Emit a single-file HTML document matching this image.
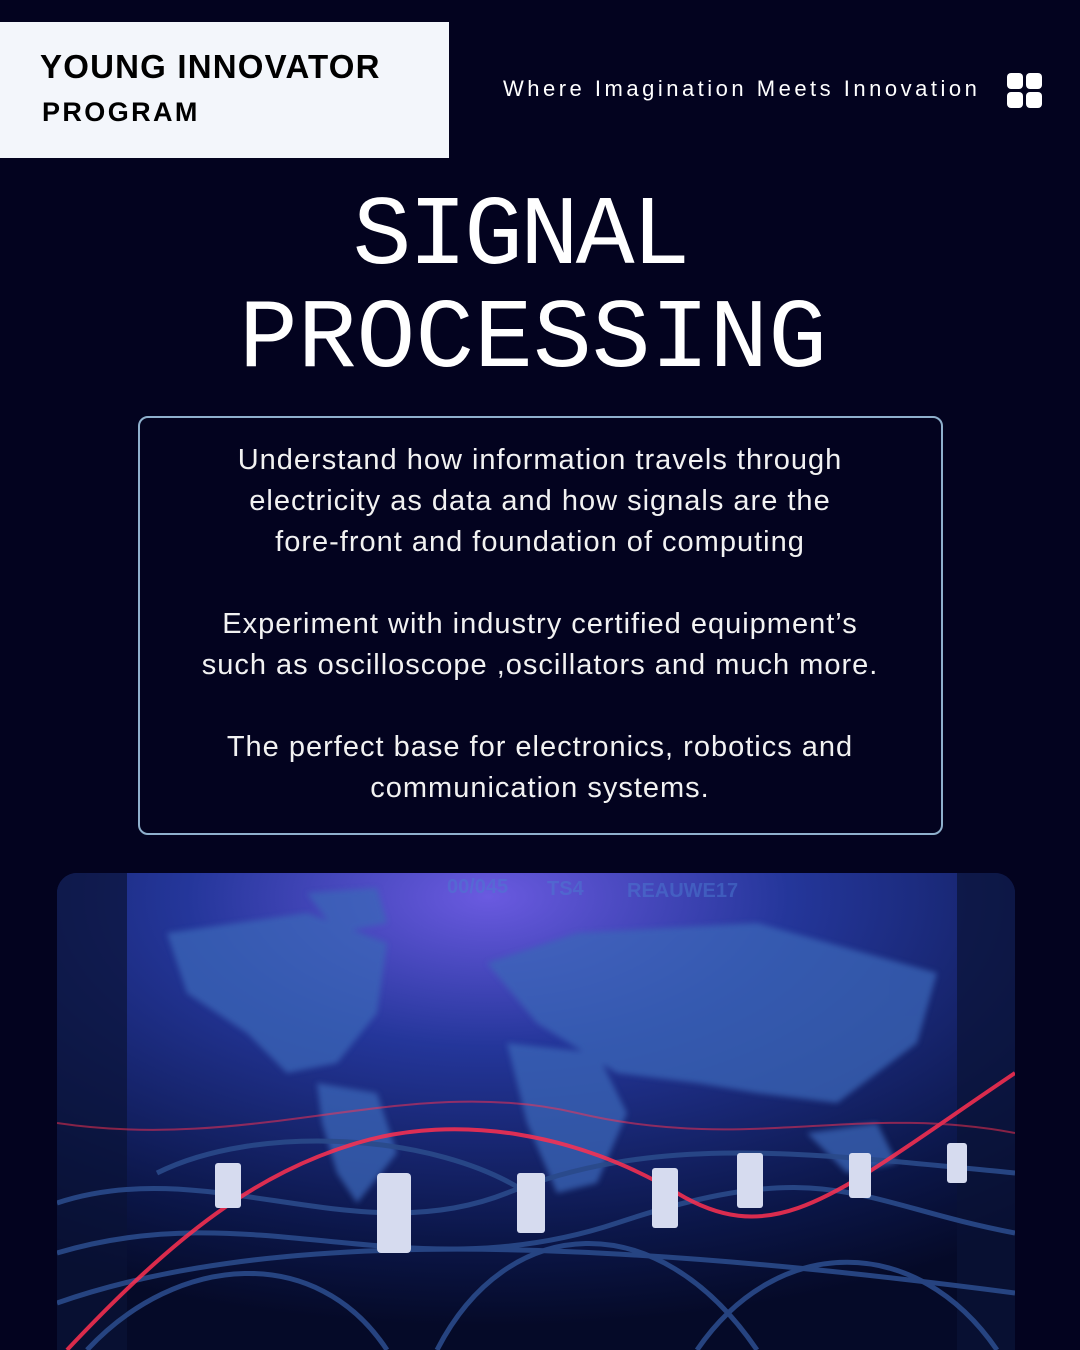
<!DOCTYPE html>
<html><head><meta charset="utf-8"><style>
*{margin:0;padding:0;box-sizing:border-box}
body{width:1080px;height:1350px;background:#03031f;position:relative;overflow:hidden;font-family:"Liberation Sans",sans-serif;color:#fff}
.tag{position:absolute;left:0;top:22px;width:449px;height:136px;background:#f3f6fb;color:#000}
.tag .a{position:absolute;left:40px;top:26px;font-size:33px;font-weight:bold;letter-spacing:1.2px;line-height:38px}
.tag .b{position:absolute;left:42px;top:74px;font-size:27px;font-weight:bold;letter-spacing:2.4px;line-height:32px}
.sub{position:absolute;left:503px;top:76px;font-size:22px;letter-spacing:3.5px;color:#fff;white-space:nowrap}
.grid{position:absolute;left:1007px;top:73px;width:35px;height:35px}
.grid i{position:absolute;width:16px;height:16px;background:#fff;border-radius:4px}
.t{position:absolute;left:0;width:1080px;text-align:center;font-family:"Liberation Mono",monospace;font-size:98px;line-height:100px}
.box{position:absolute;left:138px;top:416px;width:805px;height:419px;border:2px solid #8fb0cc;border-radius:10px}
.p{position:absolute;left:100px;width:880px;text-align:center;font-size:29px;line-height:41px;letter-spacing:1px;color:#f2f2f2}
.photo{position:absolute;left:57px;top:873px;width:958px;height:477px;border-radius:20px 20px 0 0;overflow:hidden}
</style></head><body>
<div class="tag"><div class="a">YOUNG INNOVATOR</div><div class="b">PROGRAM</div></div>
<div class="sub">Where Imagination Meets Innovation</div>
<div class="grid"><i style="left:0;top:0"></i><i style="left:19px;top:0"></i><i style="left:0;top:19px"></i><i style="left:19px;top:19px"></i></div>
<div class="t" style="top:188px;padding-right:40px;letter-spacing:-3px">SIGNAL</div>
<div class="t" style="top:291px;padding-right:14px;letter-spacing:0">PROCESSING</div>
<div class="box"></div>
<div class="p" style="top:440px">Understand how information travels through<br>electricity as data and how signals are the<br>fore-front and foundation of computing</div>
<div class="p" style="top:604px">Experiment with industry certified equipment’s<br>such as oscilloscope ,oscillators and much more.</div>
<div class="p" style="top:727px">The perfect base for electronics, robotics and<br>communication systems.</div>
<div class="photo">
<svg width="958" height="477" viewBox="0 0 958 477">
<defs>
<radialGradient id="g" cx="0.45" cy="0.05" r="0.9"><stop offset="0" stop-color="#6a5ae0"/><stop offset="0.35" stop-color="#24369a"/><stop offset="0.8" stop-color="#0b1648"/><stop offset="1" stop-color="#050a28"/></radialGradient>
<filter id="bl"><feGaussianBlur stdDeviation="3"/></filter>
</defs>
<rect width="958" height="477" fill="url(#g)"/>
<rect x="0" y="0" width="70" height="477" fill="#0a1236" opacity="0.7"/>
<rect x="900" y="0" width="58" height="477" fill="#0a1236" opacity="0.7"/>
<g fill="#3b66b8" opacity="0.75" filter="url(#bl)">
<path d="M110 60 L250 40 L330 70 L320 140 L280 190 L230 200 L190 160 L130 120 Z"/>
<path d="M250 20 L320 15 L330 50 L280 60 Z"/>
<path d="M260 210 L320 220 L340 280 L300 330 L280 300 L265 250 Z"/>
<path d="M430 90 L520 60 L700 50 L880 100 L860 170 L780 230 L700 220 L640 210 L560 200 L480 150 Z"/>
<path d="M450 170 L540 180 L570 240 L540 310 L500 320 L470 250 Z"/>
<path d="M750 260 L820 250 L840 290 L790 300 Z"/>
</g>
<g fill="none" stroke="#2a4a8a" stroke-width="5" opacity="0.9">
<path d="M0 330 C150 280 300 380 450 320 S750 280 958 300"/>
<path d="M0 380 C200 320 350 420 560 350 S800 330 958 360"/>
<path d="M30 477 C120 380 260 370 330 477"/>
<path d="M380 477 C450 340 600 330 700 477"/>
<path d="M640 477 C720 360 860 360 940 477"/>
<path d="M0 430 C200 360 500 360 958 420"/>
<path d="M100 300 C200 250 380 260 470 320"/>
</g>
<g fill="none" stroke="#ff3050" stroke-width="4" opacity="0.85">
<path d="M10 477 C120 360 200 300 300 270 S520 260 620 320 S780 320 958 200"/>
<path d="M0 250 C200 280 350 200 520 240 S800 230 958 260" stroke-width="2" opacity="0.6"/>
</g>
<g fill="#d6dbef">
<rect x="158" y="290" width="26" height="45" rx="3"/>
<rect x="320" y="300" width="34" height="80" rx="4"/>
<rect x="460" y="300" width="28" height="60" rx="3"/>
<rect x="595" y="295" width="26" height="60" rx="3"/>
<rect x="680" y="280" width="26" height="55" rx="3"/>
<rect x="792" y="280" width="22" height="45" rx="3"/>
<rect x="890" y="270" width="20" height="40" rx="3"/>
</g>
<g fill="#4a7bd0" opacity="0.5" font-family="Liberation Sans" font-weight="bold" font-size="20"><text x="390" y="20">00/045</text><text x="490" y="22">TS4</text><text x="570" y="24">REAUWE17</text></g>
</svg>
</div>
</body></html>
